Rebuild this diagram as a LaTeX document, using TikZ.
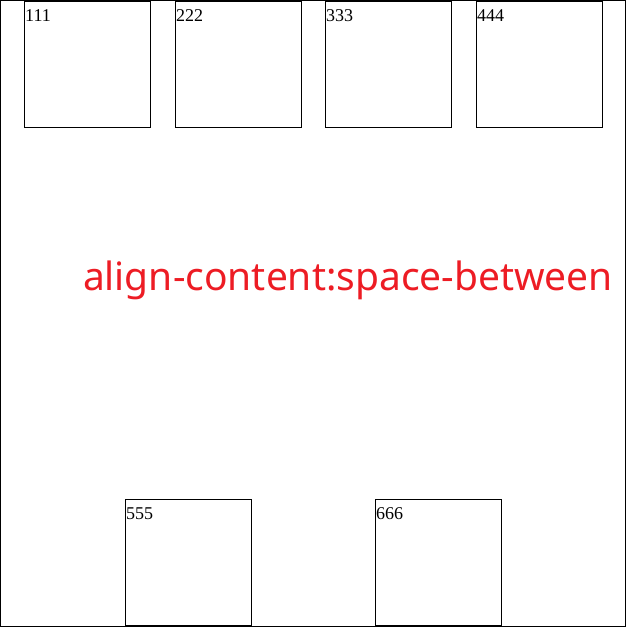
\documentclass[tikz,border=0pt]{standalone}
\usepackage{fontspec}
\setmainfont{Liberation Serif}
\newfontfamily\labelfont{Noto Sans}
\definecolor{txtred}{HTML}{ED1C24}
\begin{document}
\begin{tikzpicture}[x=1pt,y=-1pt,
  itembox/.style={draw=black,line width=1pt},
  numlabel/.style={inner sep=0pt,anchor=base west,font=\fontsize{18}{18}\selectfont}]
\useasboundingbox (0,0) rectangle (627,627);
\draw[line width=1pt] (0.5,0.5) rectangle (625.5,626);
\foreach \x/\y/\t/\n in {24.5/1/111/a,175.5/1/222/b,325.5/1/333/c,476.5/1/444/d,125.5/499.5/555/e,375.5/499.5/666/f}{
  \draw[itembox] (\x,\y) rectangle ++(126,126);
  \node[numlabel] (\n) at (\x+0.5,\y+20) {\t};
}
\node[inner sep=0pt,text=txtred] (title) at (348,280.5)
  {\resizebox{530pt}{!}{\labelfont align-content:space-between}};
\end{tikzpicture}
\end{document}
